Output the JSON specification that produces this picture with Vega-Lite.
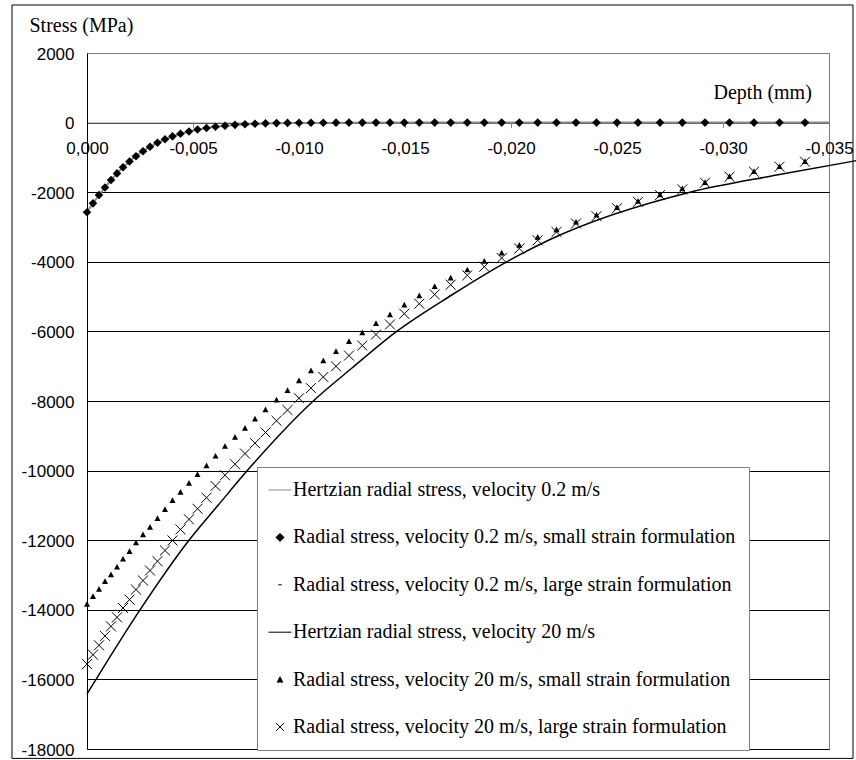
{
  "$schema": "https://vega.github.io/schema/vega-lite/v6.json",
  "width": 742,
  "height": 696,
  "autosize": {"type": "none"},
  "padding": {"left": 87, "top": 53, "right": 27, "bottom": 11},
  "background": "white",
  "config": {"view": {"stroke": "#808080", "strokeWidth": 1}, "axis": {"titleFont": "Liberation Serif", "titleFontSize": 20, "titleFontWeight": "normal", "labelFont": "Liberation Sans", "labelFlush": false}, "style": {"guide-title": {"font": "Liberation Serif", "fontWeight": "normal"}}},
  "datasets": {
    "hz02": [{"d":0,"v":-2560},{"d":-0.000566,"v":-2080},{"d":-0.001132,"v":-1650},{"d":-0.001698,"v":-1280},{"d":-0.002311,"v":-950},{"d":-0.002972,"v":-690},{"d":-0.003679,"v":-480},{"d":-0.00441,"v":-320},{"d":-0.005212,"v":-200},{"d":-0.006061,"v":-120},{"d":-0.006981,"v":-70},{"d":-0.007925,"v":-40},{"d":-0.008939,"v":-20},{"d":-0.01,"v":-10},{"d":-0.012358,"v":-3},{"d":-0.015675,"v":0},{"d":-0.035,"v":0}],
    "s02": [{"d":0,"v":-2577},{"d":-0.000283,"v":-2320},{"d":-0.000566,"v":-2080},{"d":-0.000849,"v":-1865},{"d":-0.001132,"v":-1650},{"d":-0.001415,"v":-1460},{"d":-0.001698,"v":-1285},{"d":-0.002005,"v":-1120},{"d":-0.002311,"v":-965},{"d":-0.002642,"v":-825},{"d":-0.002972,"v":-695},{"d":-0.003325,"v":-580},{"d":-0.003679,"v":-480},{"d":-0.004033,"v":-395},{"d":-0.00441,"v":-320},{"d":-0.004811,"v":-255},{"d":-0.005212,"v":-200},{"d":-0.005637,"v":-155},{"d":-0.006061,"v":-120},{"d":-0.006509,"v":-90},{"d":-0.006981,"v":-65},{"d":-0.007453,"v":-47},{"d":-0.007925,"v":-33},{"d":-0.00842,"v":-22},{"d":-0.008939,"v":-14},{"d":-0.009458,"v":-9},{"d":-0.01,"v":-5},{"d":-0.010566,"v":-3},{"d":-0.011146,"v":-2},{"d":-0.011745,"v":-1},{"d":-0.012358,"v":0},{"d":-0.012986,"v":0},{"d":-0.013632,"v":0},{"d":-0.014292,"v":0},{"d":-0.014967,"v":0},{"d":-0.015675,"v":0},{"d":-0.016401,"v":0},{"d":-0.017156,"v":0},{"d":-0.017939,"v":0},{"d":-0.018741,"v":0},{"d":-0.019561,"v":0},{"d":-0.020392,"v":0},{"d":-0.021259,"v":0},{"d":-0.022146,"v":0},{"d":-0.023066,"v":0},{"d":-0.024033,"v":0},{"d":-0.025,"v":0},{"d":-0.025991,"v":0},{"d":-0.027028,"v":0},{"d":-0.02808,"v":0},{"d":-0.029151,"v":0},{"d":-0.030307,"v":0},{"d":-0.031462,"v":0},{"d":-0.032665,"v":0},{"d":-0.033868,"v":0}],
    "l02": [{"d":0,"v":-2570},{"d":-0.000283,"v":-2315},{"d":-0.000566,"v":-2075},{"d":-0.000849,"v":-1860},{"d":-0.001132,"v":-1645},{"d":-0.001415,"v":-1455},{"d":-0.001698,"v":-1280},{"d":-0.002005,"v":-1115},{"d":-0.002311,"v":-960},{"d":-0.002642,"v":-820},{"d":-0.002972,"v":-690},{"d":-0.003325,"v":-575},{"d":-0.003679,"v":-478},{"d":-0.004033,"v":-392},{"d":-0.00441,"v":-318},{"d":-0.004811,"v":-253},{"d":-0.005212,"v":-198},{"d":-0.005637,"v":-154},{"d":-0.006061,"v":-119},{"d":-0.006509,"v":-89},{"d":-0.006981,"v":-64},{"d":-0.007453,"v":-46},{"d":-0.007925,"v":-32},{"d":-0.00842,"v":-22},{"d":-0.008939,"v":-14},{"d":-0.009458,"v":-9},{"d":-0.01,"v":-5},{"d":-0.010566,"v":-3},{"d":-0.011146,"v":-2},{"d":-0.011745,"v":-1},{"d":-0.012358,"v":0},{"d":-0.012986,"v":0},{"d":-0.013632,"v":0},{"d":-0.014292,"v":0},{"d":-0.014967,"v":0},{"d":-0.015675,"v":0},{"d":-0.016401,"v":0},{"d":-0.017156,"v":0},{"d":-0.017939,"v":0},{"d":-0.018741,"v":0},{"d":-0.019561,"v":0},{"d":-0.020392,"v":0},{"d":-0.021259,"v":0},{"d":-0.022146,"v":0},{"d":-0.023066,"v":0},{"d":-0.024033,"v":0},{"d":-0.025,"v":0},{"d":-0.025991,"v":0},{"d":-0.027028,"v":0},{"d":-0.02808,"v":0},{"d":-0.029151,"v":0},{"d":-0.030307,"v":0},{"d":-0.031462,"v":0},{"d":-0.032665,"v":0},{"d":-0.033868,"v":0}],
    "hz20": [{"d":0,"v":-16420},{"d":-0.0025,"v":-14000},{"d":-0.004811,"v":-12000},{"d":-0.006193,"v":-10989},{"d":-0.007561,"v":-10000},{"d":-0.010675,"v":-8000},{"d":-0.012486,"v":-7060},{"d":-0.014608,"v":-6000},{"d":-0.017203,"v":-4954},{"d":-0.019797,"v":-4000},{"d":-0.02184,"v":-3360},{"d":-0.028443,"v":-2000},{"d":-0.032533,"v":-1507},{"d":-0.036274,"v":-1095}],
    "s20": [{"d":0,"v":-13834},{"d":-0.000283,"v":-13612},{"d":-0.000566,"v":-13401},{"d":-0.000849,"v":-13179},{"d":-0.001132,"v":-12986},{"d":-0.001415,"v":-12767},{"d":-0.001698,"v":-12537},{"d":-0.002005,"v":-12315},{"d":-0.002311,"v":-12064},{"d":-0.002642,"v":-11834},{"d":-0.002972,"v":-11623},{"d":-0.003325,"v":-11372},{"d":-0.003679,"v":-11113},{"d":-0.004033,"v":-10854},{"d":-0.00441,"v":-10614},{"d":-0.004811,"v":-10355},{"d":-0.005212,"v":-10104},{"d":-0.005637,"v":-9857},{"d":-0.006061,"v":-9577},{"d":-0.006509,"v":-9297},{"d":-0.006981,"v":-9038},{"d":-0.007453,"v":-8779},{"d":-0.007925,"v":-8511},{"d":-0.00842,"v":-8243},{"d":-0.008939,"v":-7963},{"d":-0.009458,"v":-7690},{"d":-0.01,"v":-7410},{"d":-0.010566,"v":-7127},{"d":-0.011146,"v":-6839},{"d":-0.011745,"v":-6571},{"d":-0.012358,"v":-6283},{"d":-0.012986,"v":-6032},{"d":-0.013632,"v":-5764},{"d":-0.014292,"v":-5513},{"d":-0.014967,"v":-5234},{"d":-0.015675,"v":-4966},{"d":-0.016401,"v":-4706},{"d":-0.017156,"v":-4456},{"d":-0.017939,"v":-4225},{"d":-0.018741,"v":-3977},{"d":-0.019561,"v":-3740},{"d":-0.020392,"v":-3515},{"d":-0.021259,"v":-3285},{"d":-0.022146,"v":-3072},{"d":-0.023066,"v":-2853},{"d":-0.024033,"v":-2650},{"d":-0.025,"v":-2430},{"d":-0.025991,"v":-2255},{"d":-0.027028,"v":-2065},{"d":-0.02808,"v":-1895},{"d":-0.029151,"v":-1712},{"d":-0.030307,"v":-1542},{"d":-0.031462,"v":-1398},{"d":-0.032665,"v":-1253},{"d":-0.033868,"v":-1110}],
    "l20": [{"d":0,"v":-15560},{"d":-0.000283,"v":-15290},{"d":-0.000566,"v":-15020},{"d":-0.000849,"v":-14750},{"d":-0.001132,"v":-14476},{"d":-0.001415,"v":-14217},{"d":-0.001698,"v":-13949},{"d":-0.002005,"v":-13707},{"d":-0.002311,"v":-13419},{"d":-0.002642,"v":-13159},{"d":-0.002972,"v":-12871},{"d":-0.003325,"v":-12603},{"d":-0.003679,"v":-12295},{"d":-0.004033,"v":-12007},{"d":-0.00441,"v":-11690},{"d":-0.004811,"v":-11401},{"d":-0.005212,"v":-11096},{"d":-0.005637,"v":-10779},{"d":-0.006061,"v":-10441},{"d":-0.006509,"v":-10133},{"d":-0.006981,"v":-9816},{"d":-0.007453,"v":-9511},{"d":-0.007925,"v":-9211},{"d":-0.00842,"v":-8905},{"d":-0.008939,"v":-8568},{"d":-0.009458,"v":-8260},{"d":-0.01,"v":-7920},{"d":-0.010566,"v":-7630},{"d":-0.011146,"v":-7310},{"d":-0.011745,"v":-7003},{"d":-0.012358,"v":-6695},{"d":-0.012986,"v":-6407},{"d":-0.013632,"v":-6090},{"d":-0.014292,"v":-5801},{"d":-0.014967,"v":-5493},{"d":-0.015675,"v":-5205},{"d":-0.016401,"v":-4937},{"d":-0.017156,"v":-4657},{"d":-0.017939,"v":-4390},{"d":-0.018741,"v":-4140},{"d":-0.019561,"v":-3890},{"d":-0.020392,"v":-3620},{"d":-0.021259,"v":-3381},{"d":-0.022146,"v":-3141},{"d":-0.023066,"v":-2899},{"d":-0.024033,"v":-2690},{"d":-0.025,"v":-2460},{"d":-0.025991,"v":-2277},{"d":-0.027028,"v":-2084},{"d":-0.02808,"v":-1920},{"d":-0.029151,"v":-1729},{"d":-0.030307,"v":-1556},{"d":-0.031462,"v":-1412},{"d":-0.032665,"v":-1268},{"d":-0.033868,"v":-1124}]
  },
  "layer": [
    {
      "data": {"name": "hz02"},
      "mark": {"type": "line", "strokeWidth": 2, "clip": false},
      "encoding": {
        "x": {
          "field": "d", "type": "quantitative",
          "scale": {"domain": [0, -0.035], "nice": false, "zero": false},
          "axis": {
            "orient": "bottom", "offset": -626.4,
            "values": [0, -0.005, -0.01, -0.015, -0.02, -0.025, -0.03, -0.035],
            "grid": false,
            "domainColor": "#808080", "tickColor": "#808080", "tickSize": 5,
            "labelFont": "Liberation Sans", "labelFontSize": 17, "labelColor": "black",
            "labelPadding": 21, "labelBaseline": "middle", "labelOverlap": false, "labelFlush": false,
            "labelExpr": "replace(replace(format(datum.value, '.3f'), '.', ','), '\u2212', '-')",
            "title": "Depth (mm)", "titleFont": "Liberation Serif", "titleFontSize": 20,
            "titleFontWeight": "normal", "titleColor": "black",
            "titleX": 626, "titleY": -24.3, "titleAlign": "left", "titleBaseline": "alphabetic", "titleAngle": 0
          }
        },
        "y": {
          "field": "v", "type": "quantitative",
          "scale": {"domain": [-18000, 2000], "nice": false, "zero": false},
          "axis": {
            "values": [-18000, -16000, -14000, -12000, -10000, -8000, -6000, -4000, -2000, 0, 2000],
            "grid": true,
            "gridColor": {"condition": {"test": "datum.value == 2000", "value": "#808080"}, "value": "black"},
            "gridWidth": 1, "gridOpacity": 1,
            "ticks": false, "domainColor": "black",
            "labelFont": "Liberation Sans", "labelFontSize": 17, "labelColor": "black",
            "labelPadding": 13, "labelOffset": 1, "labelFlush": false,
            "labelExpr": "'' + datum.value",
            "title": "Stress (MPa)", "titleFont": "Liberation Serif", "titleFontSize": 20,
            "titleFontWeight": "normal", "titleColor": "black",
            "titleX": -58, "titleY": -21.3, "titleAlign": "left", "titleBaseline": "alphabetic", "titleAngle": 0
          }
        },
        "color": {
          "datum": "Hertzian radial stress, velocity 0.2 m/s", "type": "nominal",
          "scale": {
            "domain": ["Hertzian radial stress, velocity 0.2 m/s", "Radial stress, velocity 0.2 m/s, small strain formulation", "Radial stress, velocity 0.2 m/s, large strain formulation", "Hertzian radial stress, velocity 20 m/s", "Radial stress, velocity 20 m/s, small strain formulation", "Radial stress, velocity 20 m/s, large strain formulation"],
            "range": ["#8c8c8c", "black", "black", "black", "black", "black"]
          },
          "legend": {
            "orient": "none", "legendX": 170, "legendY": 414, "title": null,
            "padding": 13, "rowPadding": 27.4, "strokeColor": "#808080", "fillColor": "white",
            "labelFont": "Liberation Serif", "labelFontSize": 20, "labelColor": "black", "labelLimit": 0,
            "symbolSize": 100, "labelOffset": 3, "symbolStrokeWidth": 1,
            "encode": {"symbols": {"update": {"fill": {"scale": "color", "field": "value"}, "stroke": {"scale": "color", "field": "value"}, "strokeWidth": {"value": 1}, "opacity": {"value": 1}}}}
          }
        }
      }
    },
    {
      "data": {"name": "l02"},
      "mark": {"type": "point", "filled": true, "opacity": 1, "size": 100},
      "encoding": {
        "x": {"field": "d", "type": "quantitative"},
        "y": {"field": "v", "type": "quantitative"},
        "color": {"datum": "Radial stress, velocity 0.2 m/s, large strain formulation", "type": "nominal"},
        "shape": {
          "datum": "Radial stress, velocity 0.2 m/s, large strain formulation", "type": "nominal",
          "scale": {
            "domain": ["Hertzian radial stress, velocity 0.2 m/s", "Radial stress, velocity 0.2 m/s, small strain formulation", "Radial stress, velocity 0.2 m/s, large strain formulation", "Hertzian radial stress, velocity 20 m/s", "Radial stress, velocity 20 m/s, small strain formulation", "Radial stress, velocity 20 m/s, large strain formulation"],
            "range": ["M-2.3,0H2.3", "M-0.8,0L0,-0.8L0.8,0L0,0.8Z", "M-0.35,0H0.35", "M-2.3,0H2.3", "M-0.55,0.5L0,-0.55L0.55,0.5Z", "M-0.8,-0.8L0.8,0.8M-0.8,0.8L0.8,-0.8"]
          }
        }
      }
    },
    {
      "data": {"name": "s02"},
      "mark": {"type": "point", "filled": true, "opacity": 1, "size": 115},
      "encoding": {
        "x": {"field": "d", "type": "quantitative"},
        "y": {"field": "v", "type": "quantitative"},
        "color": {"datum": "Radial stress, velocity 0.2 m/s, small strain formulation", "type": "nominal"},
        "shape": {"datum": "Radial stress, velocity 0.2 m/s, small strain formulation", "type": "nominal"}
      }
    },
    {
      "data": {"name": "hz20"},
      "mark": {"type": "line", "strokeWidth": 1.5, "interpolate": "monotone", "clip": false},
      "encoding": {
        "x": {"field": "d", "type": "quantitative"},
        "y": {"field": "v", "type": "quantitative"},
        "color": {"datum": "Hertzian radial stress, velocity 20 m/s", "type": "nominal"}
      }
    },
    {
      "data": {"name": "s20"},
      "mark": {"type": "point", "filled": true, "opacity": 1, "size": 119},
      "encoding": {
        "x": {"field": "d", "type": "quantitative"},
        "y": {"field": "v", "type": "quantitative"},
        "color": {"datum": "Radial stress, velocity 20 m/s, small strain formulation", "type": "nominal"},
        "shape": {"datum": "Radial stress, velocity 20 m/s, small strain formulation", "type": "nominal"}
      }
    },
    {
      "data": {"name": "l20"},
      "mark": {"type": "point", "filled": false, "opacity": 1, "size": 156, "strokeWidth": 1},
      "encoding": {
        "x": {"field": "d", "type": "quantitative"},
        "y": {"field": "v", "type": "quantitative"},
        "color": {"datum": "Radial stress, velocity 20 m/s, large strain formulation", "type": "nominal"},
        "shape": {"datum": "Radial stress, velocity 20 m/s, large strain formulation", "type": "nominal"}
      }
    },
    {
      "data": {"values": [{}]},
      "mark": {"type": "rect", "fill": "transparent", "stroke": "black", "strokeWidth": 1, "clip": false},
      "encoding": {
        "x": {"datum": 0.003538, "type": "quantitative"},
        "x2": {"datum": -0.036132},
        "y": {"datum": 3380, "type": "quantitative"},
        "y2": {"datum": -18270}
      }
    }
  ]
}
